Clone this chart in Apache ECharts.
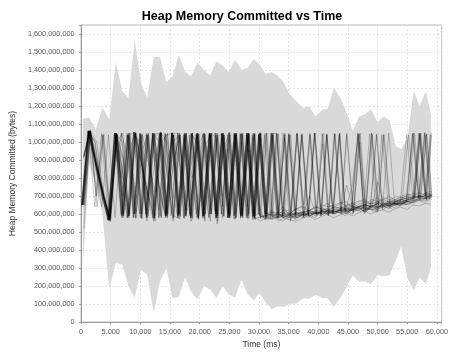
<!DOCTYPE html>
<html>
<head>
<meta charset="utf-8">
<script src="https://cdn.jsdelivr.net/npm/echarts@6/dist/echarts.min.js"></script>
<style>
  html, body { margin: 0; padding: 0; background: #fff; }
  #chart { width: 451px; height: 354px; }
</style>
</head>
<body>
<div id="chart"></div>
<script>
// Nominal sample times (ms) for the spread band and for the runs
const TIME_MS = [
  300, 1380, 2470, 3600, 4750, 5850, 6950, 7980, 9040, 10100,
  11150, 12250, 13320, 14380, 15420, 16480, 17540, 18560, 19630, 20700,
  21780, 22830, 23890, 24920, 25980, 27050, 28100, 29120, 30080, 31140,
  32170, 33150, 34180, 35210, 36290, 37380, 38470, 39550, 40620, 41590,
  42640, 43730, 44710, 45800, 46870, 47850, 48910, 49970, 50950, 52040,
  53040, 53960, 55020, 56100, 57090, 58120, 59000
];

// Spread band around the runs, in MB (upper and lower edges)
const BAND_UPPER_MB = [
  1130, 1136, 1070, 1190, 1127, 1445, 1283, 1246, 1562, 1329,
  1246, 1472, 1472, 1332, 1365, 1485, 1393, 1362, 1442, 1402,
  1369, 1448, 1424, 1391, 1457, 1402, 1411, 1463, 1430, 1378,
  1387, 1369, 1329, 1264, 1228, 1191, 1197, 1142, 1178, 1186,
  1301, 1246, 1172, 1062, 1142, 1154, 1182, 1108, 1142, 1123,
  980, 960, 1020, 1286, 1200, 1280, 1154
];
const BAND_LOWER_MB = [
  310, 880, 760, 600, 181, 328, 318, 199, 135, 291,
  263, 52, 227, 300, 131, 139, 249, 168, 126, 199,
  181, 135, 199, 153, 135, 236, 153, 120, 163, 107,
  71, 89, 84, 102, 102, 129, 131, 150, 135, 131,
  84, 135, 190, 260, 223, 227, 212, 260, 255, 260,
  340, 420, 245, 175, 249, 212, 304
];

// Each run's sampling starts slightly earlier or later than the nominal times (ms)
const RUN_OFFSET_MS = [0, 120, -150, 200, -80, 60, -200, 150, -120, 90, 230, -60, 180,
                       -230, 40, -170, 110, 250, -100, 70, -140, 190, -40, 160, -210, 30];

// Committed heap per run, in MB, one value per sample
const run01 = [650,1062,900,740,565, 1050,800,580,1055,860, 700,560,1035,610,1050,575,985,800,580,1050, 560,1020,640,1055,600,1000,575,1050,590,580, 600,585,610,595,600,590,615,605,610,620, 600,625,615,630,620,640,625,645,640,650, 660,655,670,665,680,675,690];
const run02 = [650,1060,880,720,570, 1045,820,590,1050,880, 720,575,1055,840,560,1030,620,1045,570,1010, 880,545,1040,700,1050,590,960,580,1055,600, 1040,585,1020,560,1045,650,1050,600,990,590, 1045,600,1050,610,1000,620,1050,630,1045,640, 650,660,670,1050,680,1045,690];
const run03 = [640,1058,640,1045,580, 860,1050,580,1040,1000, 590,1050,580,1045,600,1040,575,1050,1000,590, 1045,575,1050,580,1040,600,1050,570,1040,590, 600,1050,590,1040,600,1045,590,1050,600,1040, 610,1045,620,640,1050,615,630,1040,630,1050, 650,660,670,1050,690,1055,700];
const run04 = [920,1065,850,700,560, 1040,900,600,1050,575, 1045,590,1050,580,900,1040,585,1050,570,1045, 600,1050,590,1040,580,1050,600,1045,575,1050, 590,560,585,610,580,605,620,595,630,615, 600,640,615,625,650,625,640,665,645,650, 675,665,650,675,700,690,710];
const run05 = [655,1060,1000,700,575, 1050,590,1040,760,580, 1050,600,1045,580,1055,590,850,1040,580,1050, 600,1040,580,1050,590,1045,580,1040,600,1050, 590,1045,580,600,570,610,595,580,615,600, 620,605,590,625,640,610,640,625,660,640, 655,670,680,1050,680,1040,700];
const run06 = [910,1062,700,1040,590, 1050,580,1045,600,1040, 580,860,1050,590,1040,600,1045,580,1050,620, 1040,590,1050,580,1045,600,1040,585,1050,580, 1045,600,1040,590,1050,580,1040,600,1045,590, 1050,610,1040,600,1045,620,1050,610,1040,630, 640,650,655,670,1050,680,1040];
const run07 = [650,1062,900,740,565, 1050,800,580,1055,860, 620,1040,760,590,1040,580,1020,590,1045,800, 580,1050,600,960,575,1045,590,1030,660,570, 590,580,560,590,575,605,580,610,590,615, 600,610,625,600,630,620,630,610,650,630, 660,645,670,660,675,665,680];
const run08 = [650,1060,880,720,570, 1045,820,590,1050,880, 680,1040,1055,600,1040,870,590,1050,580,1045, 600,1040,850,580,1050,590,1045,585,560,580, 575,590,580,600,595,590,605,600,615,610, 605,620,630,615,635,625,645,640,650,660, 655,670,665,680,690,685,700];
const run09 = [650,1062,900,640,1040, 580,1050,900,600,1045, 580,1050,1000,580,1045,600,1050,580,1040,590, 1050,600,1045,580,1050,575,1040,600,1045,590, 1050,580,600,1040,580,1045,600,1050,590,1040, 600,1050,620,750,1040,600,640,1045,620,650, 660,670,1040,680,1050,700,1045];
const run10 = [920,1065,850,700,560, 1040,900,600,1050,575, 1020,640,1050,580,1040,600,1050,680,1045,590, 1040,600,1000,580,1045,590,1050,575,1040,600, 610,600,625,615,630,640,620,635,650,640, 650,665,640,660,675,660,680,670,690,680, 700,690,705,715,700,720,725];
const run11 = [640,1058,640,1045,580, 1040,600,1030,580,960, 1050,560,1000,1045,580,1040,620,1050,590,980, 1045,560,1030,590,1040,700,1050,570,1025,590, 1050,600,570,590,580,600,595,605,600,610, 615,605,620,625,615,630,640,635,645,650, 660,655,670,680,675,690,700];
const run12 = [650,1062,900,740,565, 1050,590,1040,600,1050, 580,1045,870,590,1050,600,1040,580,1050,590, 1045,580,1050,600,1040,585,1050,590,1045,580, 1050,575,590,565,600,580,610,590,620,600, 610,625,600,635,640,615,650,630,660,645, 665,650,680,690,1050,700,1040];
const run13 = [520,1060,1000,700,575, 1050,590,1040,1055,860, 700,1045,580,1050,590,575,1040,800,1000,560, 1045,1020,585,1055,600,1040,575,1050,590,570, 580,600,590,580,595,600,590,605,610,600, 615,620,610,625,640,630,650,640,655,660, 650,665,680,675,690,685,695];
const run14 = [655,1060,880,720,570, 1045,600,1050,580,1040, 600,1050,580,1045,590,1050,580,1040,600,1045, 580,1050,600,1040,590,1050,580,1045,600,1040, 580,1050,590,1045,580,1040,600,1050,590,1045, 600,1040,610,620,1050,630,1045,620,1040,640, 660,650,670,1045,690,1050,680];
const run15 = [650,1060,880,720,570, 1045,1000,590,1050,580, 1040,575,1020,840,575,1050,590,1045,1000,580, 1050,600,1045,580,1040,590,1050,600,1045,580, 570,585,600,590,610,600,605,615,620,610, 625,620,635,630,640,650,645,655,650,665, 670,680,675,690,700,695,705];
const run16 = [650,1062,900,740,565, 1050,800,580,1055,600, 1040,580,1045,590,1050,580,1040,600,1045,590, 1050,600,1040,580,1050,590,1040,570,580,590, 620,605,640,600,625,645,615,640,630,660, 635,655,670,645,665,680,660,690,675,700, 680,695,710,700,720,705,715];
const run17 = [910,1062,700,1040,590, 1000,1050,580,1045,600, 1040,580,1050,590,1000,1040,600,1045,580,1050, 620,1040,590,1050,580,1045,600,1040,585,1050, 580,1045,600,1040,580,600,590,610,600,620, 610,630,620,640,625,650,640,660,650,670, 660,680,670,690,1045,680,1050];
const run18 = [650,1060,880,720,570, 1045,590,1050,610,1040, 880,720,1055,600,1040,590,1050,580,1045,600, 1050,580,1040,600,1050,580,1045,590,1050,600, 590,610,600,590,605,615,610,620,630,625, 640,630,650,640,660,645,665,670,660,680, 675,690,685,700,695,710,700];
const run19 = [650,1062,900,740,565, 1050,580,830,1055,600, 1040,580,1050,600,1045,590,1050,580,1040,600, 1050,580,1045,600,1040,580,1050,590,1045,600, 1040,580,1050,570,560,575,590,570,585,600, 580,595,610,590,605,620,600,615,625,610, 630,640,625,650,645,660,655];
const run20 = [650,1060,880,720,570, 1045,820,590,1050,880, 720,575,1055,600,860,1050,590,700,1045,570, 1050,580,960,1040,575,1050,590,1045,580,590, 600,580,590,600,610,595,700,600,620,610, 630,620,760,630,640,650,640,780,660,650, 670,680,690,700,690,720,705];
const run21 = [650,1060,1000,700,575, 1050,590,1040,600,1045, 580,1050,760,600,1045,1050,580,850,1040,580, 1050,600,1040,580,1050,590,1045,580,1040,600, 1050,1045,580,1050,600,1040,590,1050,600,1045, 610,1050,600,620,1040,610,630,620,640,635, 650,660,655,670,680,690,700];
const run22 = [920,1065,850,700,560, 1040,600,1050,575,1045, 590,1050,580,900,1040,585,1050,570,1045,600, 1050,590,1040,580,1050,600,1045,575,1050,590, 1040,600,1050,590,1045,580,1040,590,1050,600, 1045,610,630,620,1050,630,1040,650,640,660, 670,680,1040,690,1050,700,680];
const run23 = [650,1060,880,720,570, 980,700,1040,640,1010, 560,1045,700,590,1050,640,1030,560,980,1040, 600,1050,700,1020,570,1045,640,1050,600,580, 610,590,620,600,630,610,620,640,630,620, 640,630,650,660,640,670,655,665,680,670, 680,690,700,685,1040,700,710];
const run24 = [920,1062,900,700,580, 1045,580,960,1050,600, 1040,590,1050,1000,580,1045,600,1050,580,1040, 600,1030,1050,590,1040,580,1050,600,1045,600, 1050,580,1040,620,1050,590,600,610,600,620, 615,610,620,640,630,640,620,640,650,660, 660,670,680,690,700,1045,700];
const run25 = [650,1062,900,740,565, 1050,800,1040,580,1050, 600,1030,620,1050,760,590,1040,600,1050,580, 1040,620,1050,580,1000,600,1050,590,600,590, 580,600,590,610,600,605,620,610,615,630, 620,640,630,645,640,650,660,655,670,665, 675,680,690,695,700,690,705];
const run26 = [650,1060,880,720,570, 1045,600,1050,580,1040, 600,1050,590,1040,1050,600,1045,590,1050,600, 1040,580,1050,600,1040,620,1045,580,1050,570, 1040,600,590,580,600,610,600,605,615,620, 610,625,630,620,640,650,640,660,655,665, 670,665,680,690,700,695,700];

const RUNS = [run01, run02, run03, run04, run05, run06, run07, run08, run09, run10, run11, run12, run13,
              run14, run15, run16, run17, run18, run19, run20, run21, run22, run23, run24, run25, run26];

const MB = 1e6;
const LABEL_FONT = 'Liberation Sans, Arial, sans-serif';

function withCommas(v) {
  return String(Math.round(v)).replace(/\B(?=(\d{3})+(?!\d))/g, ',');
}

RUNS.forEach(function (r, i) {
  if (r.length !== TIME_MS.length) throw new Error('run ' + (i + 1) + ' has ' + r.length + ' values');
});

const upperPts = TIME_MS.map(function (t, i) { return [t, BAND_UPPER_MB[i] * MB]; });
const lowerPts = TIME_MS.map(function (t, i) { return [t, BAND_LOWER_MB[i] * MB]; });

// The band is one polygon: along the upper edge, then back along the lower edge
const series = [{
  type: 'custom',
  silent: true,
  z: 1,
  data: [[TIME_MS[0], BAND_LOWER_MB[0] * MB]],
  renderItem: function (params, api) {
    const pts = upperPts.map(function (p) { return api.coord(p); })
      .concat(lowerPts.slice().reverse().map(function (p) { return api.coord(p); }));
    return { type: 'polygon', shape: { points: pts }, style: { fill: '#d9d9d9' } };
  }
}];

RUNS.forEach(function (r, k) {
  const shift = RUN_OFFSET_MS[k];
  series.push({
    type: 'line',
    data: TIME_MS.map(function (t, i) { return [Math.max(0, t + shift), r[i] * MB]; }),
    symbol: 'none',
    silent: true,
    z: 2,
    lineStyle: { color: 'rgba(0,0,0,0.36)', width: 0.6 }
  });
});

const chart = echarts.init(document.getElementById('chart'), null, { renderer: 'canvas' });
chart.setOption({
  animation: false,
  backgroundColor: '#ffffff',
  title: {
    text: 'Heap Memory Committed vs Time',
    left: 237, top: 5, textAlign: 'center',
    textStyle: { fontFamily: LABEL_FONT, fontSize: 12.5, fontWeight: 'bold', color: '#000' }
  },
  grid: {
    left: 76, right: 2, top: 25, bottom: 29,
    show: true, borderColor: '#b8b8b8', borderWidth: 1, backgroundColor: '#ffffff'
  },
  xAxis: {
    type: 'value', min: 0, max: 60800, interval: 5000,
    offset: 3,
    name: 'Time (ms)', nameLocation: 'middle', nameGap: 14,
    nameTextStyle: { fontFamily: LABEL_FONT, fontSize: 8.5, color: '#333' },
    axisLine: { show: true, lineStyle: { color: '#999', width: 1 } },
    axisTick: { show: true, length: 2, lineStyle: { color: '#999' } },
    axisLabel: {
      fontFamily: LABEL_FONT, fontSize: 7.3, color: '#555', margin: 3,
      formatter: function (v) { return v % 5000 === 0 ? withCommas(v) : ''; }
    },
    splitLine: { show: true, lineStyle: { color: '#dcdcdc', type: [2, 2], width: 0.8 } }
  },
  yAxis: {
    type: 'value', min: 0, max: 1650000000, interval: 100000000,
    offset: 3.5,
    name: 'Heap Memory Committed (bytes)', nameLocation: 'middle', nameGap: 56,
    nameTextStyle: { fontFamily: LABEL_FONT, fontSize: 8.5, color: '#333' },
    axisLine: { show: true, lineStyle: { color: '#999', width: 1 } },
    axisTick: { show: true, length: 2, lineStyle: { color: '#999' } },
    axisLabel: {
      fontFamily: LABEL_FONT, fontSize: 7.3, color: '#555', margin: 3,
      formatter: function (v) { return v % 100000000 === 0 ? withCommas(v) : ''; }
    },
    splitLine: { show: true, lineStyle: { color: '#dcdcdc', type: [2, 2], width: 0.8 } }
  },
  series: series
});
</script>
</body>
</html>
